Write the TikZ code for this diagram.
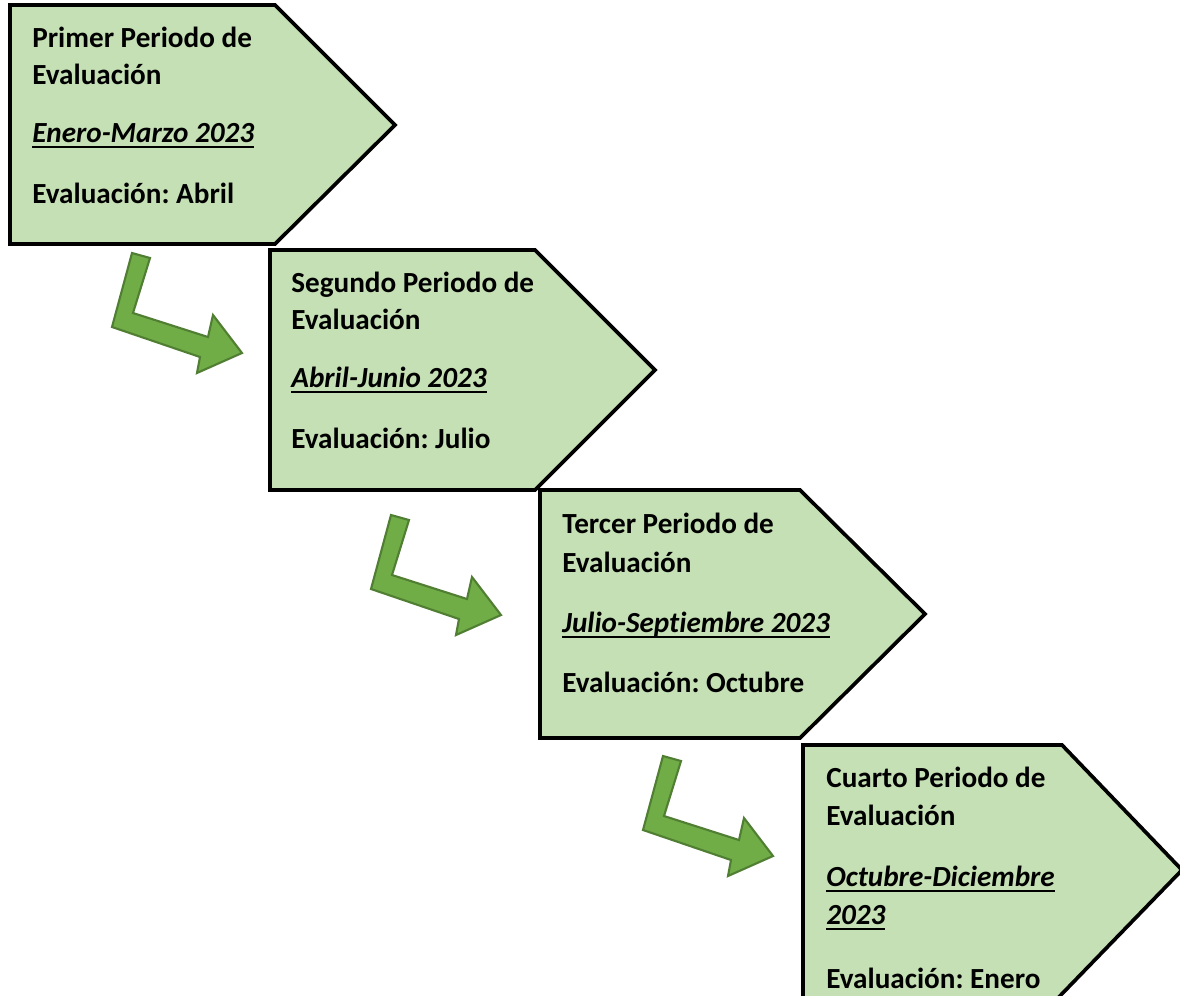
\documentclass[tikz,border=0pt]{standalone}
\usepackage{fontspec}
\setmainfont[Ligatures=NoCommon]{Carlito}
\frenchspacing
\definecolor{boxfill}{HTML}{C5E0B4}
\definecolor{arrfill}{HTML}{70AD47}
\definecolor{arrline}{HTML}{507E32}
\newcommand{\myul}[1]{\setbox0=\hbox{#1}\rlap{\rule[-0.21em]{\wd0}{0.075em}}\box0}
\tikzset{
  stage/.style={draw=black, fill=boxfill, line width=2.1pt, line join=miter},
  bentarrow/.style={draw=arrline, fill=arrfill, line width=1.2pt, line join=miter},
  txt/.style={anchor=base west, inner sep=0pt, font=\bfseries\fontsize{16.6}{19}\selectfont},
  itxt/.style={txt, font=\bfseries\itshape\fontsize{16.6}{19}\selectfont}
}
\begin{document}
\begin{tikzpicture}[x=0.02cm,y=-0.02cm]
\useasboundingbox (0,0) rectangle (1180,995);
\clip (0,0) rectangle (1180,995);
% stage boxes
\draw[stage] (10,5) -- (275,5) -- (395,125) -- (275,244) -- (10,244) -- cycle;
\draw[stage] (270,250) -- (535,250) -- (655,370) -- (535,490) -- (270,490) -- cycle;
\draw[stage] (540,490) -- (800,490) -- (925,614) -- (800,738) -- (540,738) -- cycle;
\draw[stage] (803,745) -- (1062,745) -- (1182,870) -- (1056,1000) -- (803,1000) -- cycle;
% bent arrows
\foreach \dx/\dy in {0/0, 259/262, 531/503}{
  \draw[bentarrow, shift={(\dx,\dy)}] (132,253) -- (150,258) -- (133,313) -- (208,337) -- (213,315) -- (242,353) -- (197,373) -- (200,357) -- (112,327) -- cycle;
}
% texts box 1
\node[txt] (a1) at (32,47) {Primer Periodo de};
\node[txt] (a2) at (32,84) {Evaluación};
\node[itxt] (a3) at (32,142) {\myul{Enero-Marzo 2023}};
\node[txt] (a4) at (32,203) {Evaluación: Abril};
% texts box 2
\node[txt] (b1) at (291,292) {Segundo Periodo de};
\node[txt] (b2) at (291,329) {Evaluación};
\node[itxt] (b3) at (291,387) {\myul{Abril-Junio 2023}};
\node[txt] (b4) at (291,448) {Evaluación: Julio};
% texts box 3
\node[txt] (c1) at (562,533) {Tercer Periodo de};
\node[txt] (c2) at (562,572) {Evaluación};
\node[itxt] (c3) at (562,632) {\myul{Julio-Septiembre 2023}};
\node[txt] (c4) at (562,692) {Evaluación: Octubre};
% texts box 4
\node[txt] (d1) at (826,787) {Cuarto Periodo de};
\node[txt] (d2) at (826,825) {Evaluación};
\node[itxt] (d3) at (826,886) {\myul{Octubre-Diciembre}};
\node[itxt] (d4) at (826,924) {\myul{2023}};
\node[txt] (d5) at (826,988) {Evaluación: Enero};
\end{tikzpicture}
\end{document}
